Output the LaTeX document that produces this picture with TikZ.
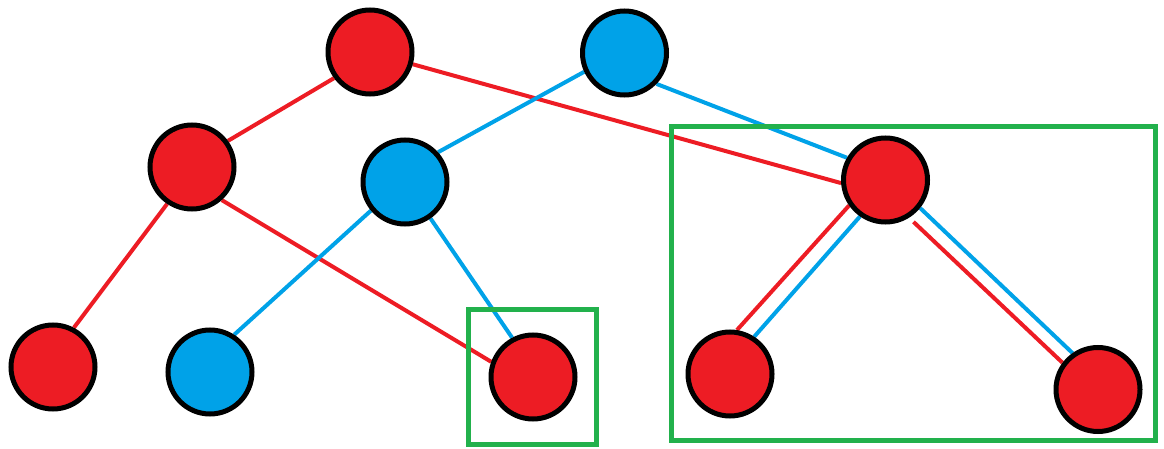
\documentclass[tikz,border=0pt]{standalone}
\usetikzlibrary{backgrounds}
\definecolor{pred}{HTML}{ED1C24}
\definecolor{pblue}{HTML}{00A2E8}
\definecolor{pgreen}{HTML}{22B14C}
\tikzset{
  vtx/.style={circle,draw=black,line width=5pt,minimum size=84pt,inner sep=0pt},
  rv/.style={vtx,fill=pred},
  bv/.style={vtx,fill=pblue},
  redge/.style={draw=pred,line width=4pt},
  bedge/.style={draw=pblue,line width=4pt},
  gbox/.style={draw=pgreen,line width=5pt}
}
\begin{document}
\begin{tikzpicture}[x=1pt,y=-1pt]
\useasboundingbox (0,0) rectangle (1164,449);
% nodes
\node[rv] (R1) at (370,52) {};
\node[bv] (B1) at (624.5,53) {};
\node[rv] (R2) at (192,167) {};
\node[bv] (B2) at (405,182) {};
\node[rv] (R3) at (885.5,180) {};
\node[rv] (R4) at (53,367) {};
\node[bv] (B3) at (210,372) {};
\node[rv] (R5) at (533,377) {};
\node[rv] (R6) at (730,374) {};
\node[rv] (R7) at (1098,389.5) {};
% edges
\begin{scope}[on background layer]
\draw[redge] (R1.216) -- (R2.36);
\draw[redge] (R2.236) -- (R4.62);
\draw[redge] (R2.312) -- (R5.160);
\draw[redge] (R1.-16) -- (R3.184);
\draw[bedge] (B1.205) -- (B2.42);
\draw[bedge] (B2.220) -- (B3.57);
\draw[bedge] (B2.305) -- (R5.118);
\draw[bedge] (B1.316) -- (R3.150);
\draw[redge] (R3.215) -- (R6.81);
\draw[bedge] (R3.235) -- (R6.57);
\draw[redge,shorten <=6pt] (R3.302) -- (R7.143);
\draw[bedge] (R3.321) -- (R7.125);
\end{scope}
% green frames
\draw[gbox] (468,309) rectangle (596,444);
\draw[gbox] (671,127) rectangle (1155,440);
\end{tikzpicture}
\end{document}
